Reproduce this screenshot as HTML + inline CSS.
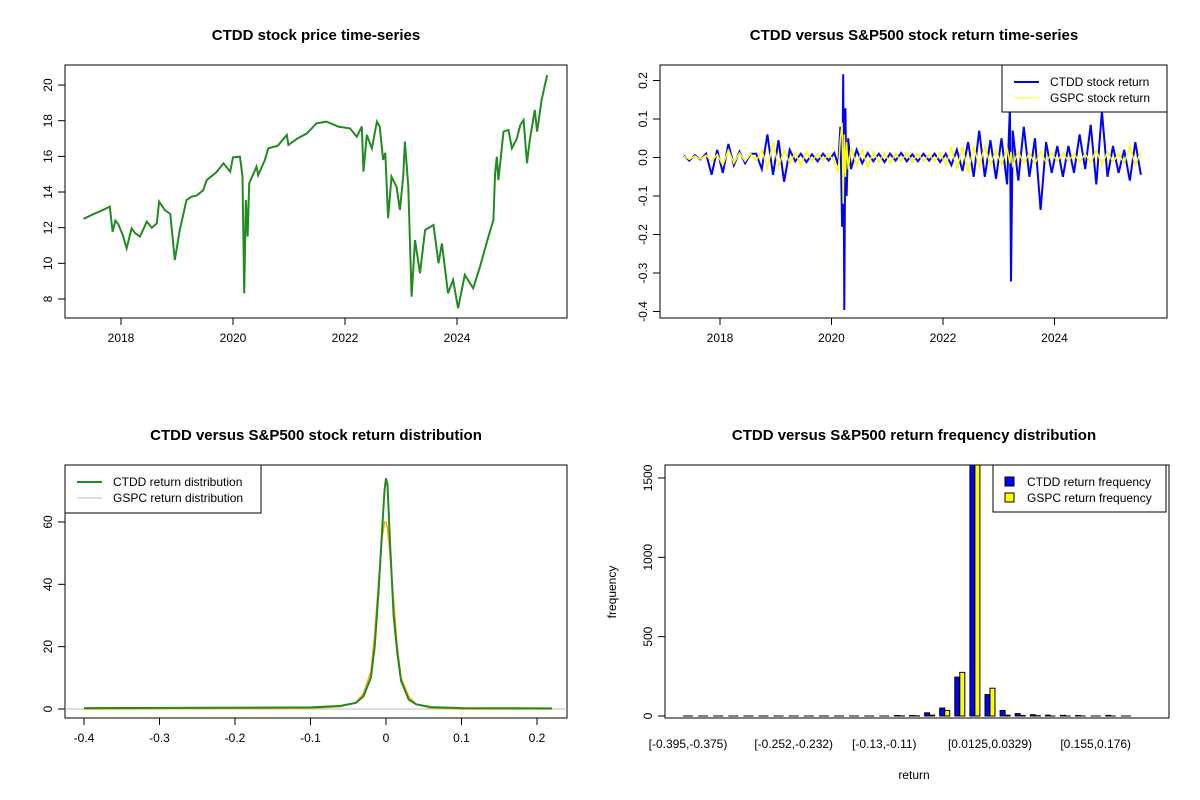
<!DOCTYPE html>
<html><head><meta charset="utf-8"><style>
body{margin:0;background:#fff}
svg{display:block;font-family:"Liberation Sans",Arial,sans-serif}
.t{font-weight:bold;font-size:15px;text-anchor:middle}
.k{font-size:12px}
</style></head><body>
<svg id="s" width="1200" height="800" xmlns="http://www.w3.org/2000/svg">
<rect width="1200" height="800" fill="#fff"/>
<text class="t" x="316" y="40">CTDD stock price time-series</text>
<text class="t" x="914" y="40">CTDD versus S&amp;P500 stock return time-series</text>
<text class="t" x="316" y="440">CTDD versus S&amp;P500 stock return distribution</text>
<text class="t" x="914" y="440">CTDD versus S&amp;P500 return frequency distribution</text>
<g id="g1"></g>
<g id="g2"></g>
<g id="g3"></g>
<g id="g4"></g>
</svg>
<script>
const priceYears=[2017.33,2017.5,2017.65,2017.80,2017.85,2017.9,2017.95,2018.03,2018.10,2018.19,2018.25,2018.34,2018.46,2018.55,2018.64,2018.68,2018.78,2018.88,2018.96,2019.05,2019.17,2019.26,2019.35,2019.47,2019.53,2019.7,2019.83,2019.95,2020.0,2020.125,2020.17,2020.20,2020.23,2020.26,2020.29,2020.42,2020.45,2020.57,2020.63,2020.8,2020.96,2020.99,2021.15,2021.32,2021.49,2021.67,2021.88,2022.09,2022.21,2022.30,2022.33,2022.39,2022.48,2022.57,2022.62,2022.68,2022.72,2022.77,2022.83,2022.92,2022.98,2023.04,2023.07,2023.13,2023.19,2023.25,2023.34,2023.43,2023.58,2023.67,2023.73,2023.84,2023.93,2024.02,2024.14,2024.29,2024.41,2024.56,2024.65,2024.68,2024.71,2024.74,2024.83,2024.92,2024.98,2025.07,2025.13,2025.19,2025.25,2025.30,2025.39,2025.43,2025.51,2025.57,2025.61];
const priceVals=[12.49,12.75,12.95,13.18,11.77,12.4,12.2,11.6,10.84,11.96,11.7,11.5,12.34,12.0,12.24,13.46,13.0,12.77,10.19,11.87,13.55,13.74,13.8,14.11,14.67,15.1,15.61,15.14,15.95,15.98,14.86,8.32,13.55,11.5,14.49,15.42,14.95,15.8,16.45,16.6,17.2,16.64,17.0,17.29,17.85,17.95,17.67,17.57,17.10,17.67,15.14,17.2,16.45,17.95,17.67,15.8,16.2,12.53,14.86,14.30,12.99,14.86,16.83,14.30,8.13,11.31,9.44,11.87,12.15,10.0,11.12,8.32,9.07,7.48,9.35,8.6,9.81,11.5,12.43,15.05,15.98,14.67,17.39,17.48,16.45,17.01,17.76,18.04,15.61,16.92,18.6,17.39,19.16,20.0,20.56];
const priceYTicks=[8,10,12,14,16,18,20];
const yearTicks=[2018,2020,2022,2024];

const retYears=[2017.35,2017.45,2017.55,2017.65,2017.75,2017.85,2017.95,2018.05,2018.15,2018.25,2018.35,2018.45,2018.55,2018.65,2018.75,2018.85,2018.95,2019.05,2019.15,2019.25,2019.35,2019.45,2019.55,2019.65,2019.75,2019.85,2019.95,2020.05,2020.12,2020.16,2020.19,2020.21,2020.23,2020.25,2020.27,2020.30,2020.35,2020.45,2020.55,2020.65,2020.75,2020.85,2020.95,2021.05,2021.15,2021.25,2021.35,2021.45,2021.55,2021.65,2021.75,2021.85,2021.95,2022.05,2022.15,2022.25,2022.35,2022.45,2022.55,2022.65,2022.75,2022.85,2022.95,2023.05,2023.15,2023.20,2023.22,2023.25,2023.35,2023.45,2023.55,2023.65,2023.75,2023.85,2023.95,2024.05,2024.15,2024.25,2024.35,2024.45,2024.55,2024.65,2024.75,2024.85,2024.95,2025.05,2025.15,2025.25,2025.35,2025.45,2025.55];
const ctddRet=[0.005,-0.008,0.006,-0.005,0.01,-0.045,0.02,-0.04,0.035,-0.02,0.015,-0.015,0.01,0.01,-0.03,0.06,-0.045,0.045,-0.063,0.02,-0.01,0.01,-0.012,0.008,-0.01,0.01,-0.008,0.012,-0.02,0.08,-0.18,0.216,-0.396,0.128,-0.1,0.05,-0.03,0.02,-0.015,0.012,-0.01,0.01,-0.012,0.01,-0.008,0.012,-0.01,0.008,-0.01,0.01,-0.008,0.01,-0.012,0.01,-0.02,0.02,-0.035,0.04,-0.05,0.07,-0.05,0.045,-0.055,0.05,-0.07,0.13,-0.322,0.07,-0.06,0.08,-0.05,0.05,-0.136,0.04,-0.04,0.03,-0.05,0.03,-0.04,0.06,-0.03,0.085,-0.07,0.12,-0.05,0.03,-0.04,0.02,-0.06,0.04,-0.045];
const gspcRet=[0.003,-0.005,0.004,-0.004,0.006,-0.01,0.008,-0.02,0.02,-0.015,0.012,-0.01,0.01,-0.008,0.02,-0.03,0.04,-0.025,0.02,-0.015,0.012,-0.02,0.015,-0.01,0.01,-0.008,0.008,-0.01,-0.04,0.05,0.09,-0.12,0.06,-0.05,0.04,-0.03,0.025,-0.02,0.02,-0.025,0.015,-0.012,0.012,-0.015,0.01,-0.01,0.012,-0.012,0.01,-0.01,0.008,-0.01,0.012,-0.02,0.025,-0.03,0.028,-0.04,0.03,-0.025,0.03,-0.02,0.02,-0.02,0.025,-0.015,0.015,-0.02,0.015,-0.015,0.012,-0.015,0.015,-0.012,0.012,-0.01,0.012,-0.01,0.01,-0.012,0.01,-0.015,0.02,-0.02,0.015,-0.012,0.01,-0.015,0.03,-0.02,0.015];
const retYTicks=[-0.4,-0.3,-0.2,-0.1,0,0.1,0.2];

const densX=[-0.4,-0.1,-0.06,-0.04,-0.03,-0.02,-0.015,-0.01,-0.005,-0.002,0,0.002,0.005,0.01,0.015,0.02,0.03,0.04,0.06,0.1,0.22];
const ctddDens=[0.3,0.5,1,2,4,10,20,37,58,70,74,72,55,30,18,9,3,1.5,0.6,0.3,0.2];
const gspcDens=[0,0.2,0.8,2,5,12,24,40,55,60,60,58,50,35,20,10,4,1.5,0.3,0,0];
const densXTicks=[-0.4,-0.3,-0.2,-0.1,0,0.1,0.2];
const densYTicks=[0,20,40,60];

const binLabels=["[-0.395,-0.375)","[-0.252,-0.232)","[-0.13,-0.11)","[0.0125,0.0329)","[0.155,0.176)"];
const binLabelIdx=[0,7,13,20,27];
const ctddFreq=[0,0,0,0,0,0,0,0,0,0,0,0,0,0,3,3,20,50,245,1650,135,35,15,8,5,4,3,0,4,0];
const gspcFreq=[0,0,0,0,0,0,0,0,0,0,0,0,0,0,1,1,5,35,275,1700,175,5,3,2,0,0,0,0,0,0];
const freqTicks=[0,500,1000,1500];

const NS="http://www.w3.org/2000/svg";
function mk(p,tag,at,txt){const e=document.createElementNS(NS,tag);for(const k in at)e.setAttribute(k,at[k]);if(txt!==undefined)e.textContent=txt;p.appendChild(e);return e;}
function box(g,x0,y0,x1,y1){const r=mk(g,'rect',{x:x0,y:y0,width:x1-x0,height:y1-y0,fill:'none',stroke:'#000'});

}
function xtick(g,x,y,lab){const l=mk(g,'line',{x1:x,x2:x,y1:y,y2:y+7,stroke:'#000'});


const t=mk(g,'text',{x:x,y:y+24,'text-anchor':'middle',class:'k'},lab);

}
function ytick(g,x,y,lab){const l=mk(g,'line',{x1:x-7,x2:x,y1:y,y2:y,stroke:'#000'});


const t=mk(g,'text',{x:x-13,y:y,'text-anchor':'middle',class:'k',transform:`rotate(-90 ${x-13} ${y})`},lab);

}
function poly(g,xs,ys,fx,fy,col,w,name){const pts=xs.map((v,i)=>fx(v).toFixed(1)+','+fy(ys[i]).toFixed(1)).join(' ');
const p=mk(g,'polyline',{points:pts,fill:'none',stroke:col,'stroke-width':w,'stroke-linejoin':'miter'});

}

{const g=document.getElementById('g1');
const fx=y=>121+(y-2018)*56, fy=v=>299-(v-8)*17.83;
box(g,65,65,567,318);
yearTicks.forEach(t=>xtick(g,fx(t),318,t));
priceYTicks.forEach(t=>ytick(g,65,fy(t),t));
poly(g,priceYears,priceVals,fx,fy,'#228B22',2,'ctdd-price-line');}

{const g=document.getElementById('g2');
const fx=y=>720+(y-2018)*55.75, fy=v=>157.5-v*385;
box(g,660,65,1167,318);
yearTicks.forEach(t=>xtick(g,fx(t),318,t));
retYTicks.forEach(t=>ytick(g,660,fy(t),t===0?'0.0':t));
poly(g,retYears,ctddRet,fx,fy,'#0000ff',2,'ctdd-return-line');
poly(g,retYears,gspcRet,fx,fy,'#ffff00',1.5,'gspc-return-line');
const lg=mk(g,'g',{});


mk(lg,'rect',{x:1002,y:65,width:165,height:47,fill:'#fff',stroke:'#000'});
mk(lg,'line',{x1:1014,x2:1039,y1:82,y2:82,stroke:'#0000ff','stroke-width':2});
mk(lg,'line',{x1:1014,x2:1039,y1:98,y2:98,stroke:'#ffff00','stroke-width':1});
mk(lg,'text',{x:1050,y:86,class:'k'},'CTDD stock return');
mk(lg,'text',{x:1050,y:102,class:'k'},'GSPC stock return');}

{const g=document.getElementById('g3');
const fx=v=>84+(v+0.4)*755, fy=v=>709-v*3.117;
box(g,65,465,567,718);
densXTicks.forEach(t=>xtick(g,fx(t),718,t));
densYTicks.forEach(t=>ytick(g,65,fy(t),t));
const base=mk(g,'line',{x1:65,x2:567,y1:fy(0),y2:fy(0),stroke:'#bebebe'});


poly(g,densX,gspcDens,fx,fy,'#ffa500',1.5,'gspc-density-line');
poly(g,densX,ctddDens,fx,fy,'#228B22',2,'ctdd-density-line');
const lg=mk(g,'g',{});


mk(lg,'rect',{x:65,y:465,width:196,height:48,fill:'#fff',stroke:'#000'});
mk(lg,'line',{x1:77,x2:102,y1:482,y2:482,stroke:'#228B22','stroke-width':2});
mk(lg,'line',{x1:77,x2:102,y1:498,y2:498,stroke:'#bebebe','stroke-width':1});
mk(lg,'text',{x:113,y:486,class:'k'},'CTDD return distribution');
mk(lg,'text',{x:113,y:502,class:'k'},'GSPC return distribution');}

{const g=document.getElementById('g4');
const gc=i=>688+i*15.1, fy=v=>716-Math.min(v,1620)*0.1587;
const cl=mk(g,'clipPath',{id:'c4'});mk(cl,'rect',{x:665,y:465,width:504,height:253});
const bars=mk(g,'g',{'clip-path':'url(#c4)'});
function bar(x,v,col,name){
 if(v<=0){const l=mk(bars,'line',{x1:x,x2:x+5,y1:716,y2:716,stroke:'#000','stroke-width':1});
 
 return;}
 const r=mk(bars,'rect',{x:x,y:fy(v),width:5,height:716-fy(v),fill:col,stroke:'#000','stroke-width':1});
 
 }
ctddFreq.forEach((v,i)=>bar(gc(i)-5,v,'#0000ff','ctdd-freq-bar'));
gspcFreq.forEach((v,i)=>bar(gc(i),v,'#ffff00','gspc-freq-bar'));
box(g,665,465,1169,718);
freqTicks.forEach(t=>ytick(g,665,fy(t),t));
binLabels.forEach((l,k)=>{const t=mk(g,'text',{x:gc(binLabelIdx[k]),y:748,'text-anchor':'middle',class:'k'},l);

});
const xl=mk(g,'text',{x:914,y:779,'text-anchor':'middle',class:'k'},'return');


const yl=mk(g,'text',{x:616,y:592,'text-anchor':'middle',class:'k',transform:'rotate(-90 616 592)'},'frequency');


const lg=mk(g,'g',{});


mk(lg,'rect',{x:993,y:465,width:173,height:47,fill:'#fff',stroke:'#000'});
mk(lg,'rect',{x:1005,y:477,width:9,height:9,fill:'#0000ff',stroke:'#000'});
mk(lg,'rect',{x:1005,y:493,width:9,height:9,fill:'#ffff00',stroke:'#000'});
mk(lg,'text',{x:1027,y:486,class:'k'},'CTDD return frequency');
mk(lg,'text',{x:1027,y:502,class:'k'},'GSPC return frequency');}
</script>
</body></html>
